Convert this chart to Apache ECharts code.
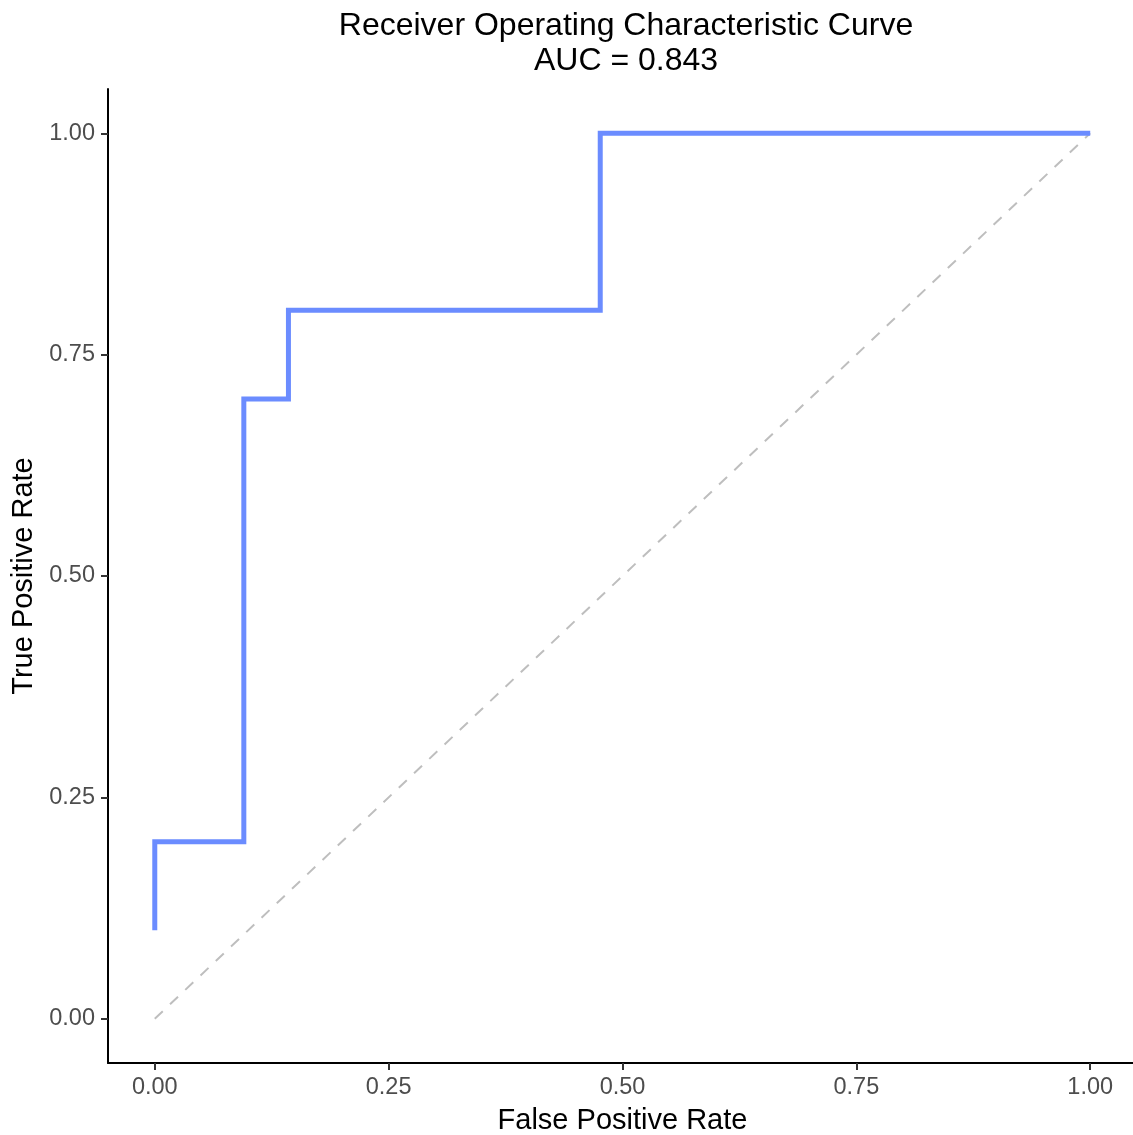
<!DOCTYPE html>
<html><head><meta charset="utf-8">
<script src="https://cdn.jsdelivr.net/npm/echarts@6/dist/echarts.min.js"></script>
<style>html,body{margin:0;padding:0;background:#fff}#c{width:1133px;height:1135px}</style>
</head><body><div id="c"></div>
<script>
const fpr = [0, 0, 0.0952, 0.0952, 0.1429, 0.1429, 0.4762, 0.4762, 1];
const tpr = [0.1, 0.2, 0.2, 0.7, 0.7, 0.8, 0.8, 1.0, 1.0];
const refX = [0, 1];
const refY = [0, 1];
const tickValues = [0, 0.25, 0.5, 0.75, 1];
const titleText = 'Receiver Operating Characteristic Curve\nAUC = 0.843';

const font = '"Liberation Sans", Arial, Helvetica, sans-serif';
const chart = echarts.init(document.getElementById('c'));
function axis(name, gap) {
  return {
    type: 'value', min: -0.05, max: 1.05,
    name: name, nameGap: gap, nameLocation: 'middle',
    nameTextStyle: {color: '#000', fontSize: 29, fontFamily: font},
    splitLine: {show: false},
    axisLine: {show: true, onZero: false, lineStyle: {color: '#000', width: 2}},
    axisTick: {show: true, length: 7, customValues: tickValues, lineStyle: {color: '#333', width: 2}},
    axisLabel: {show: true, customValues: tickValues, margin: 13, color: '#4d4d4d', fontSize: 23.5, fontFamily: font,
      formatter: v => v.toFixed(2)}
  };
}
chart.setOption({
  animation: false,
  title: {text: titleText, left: 621, top: 4, textAlign: 'center',
    textStyle: {color: '#000', fontSize: 32, fontWeight: 'normal', fontFamily: font, lineHeight: 35}},
  grid: {left: 108, right: -4, top: 89, bottom: 72, containLabel: false, outerBoundsMode: 'none'},
  xAxis: axis('False Positive Rate', 43),
  yAxis: axis('True Positive Rate', 68),
  series: [
    {type: 'line', data: refX.map((x, i) => [x, refY[i]]), symbol: 'none',
      lineStyle: {color: '#bebebe', width: 2, type: [11, 10]}},
    {type: 'line', data: fpr.map((x, i) => [x, tpr[i]]), symbol: 'none',
      lineStyle: {color: '#6b8cff', width: 5, join: 'miter'}}
  ]
});
</script></body></html>
